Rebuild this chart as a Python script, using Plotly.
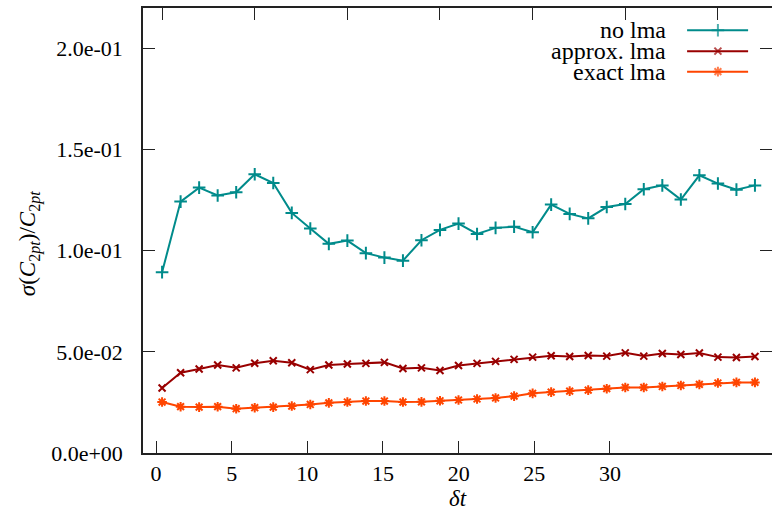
import plotly.graph_objects as go

# ---- data ----
dt = list(range(33))
no_lma = [0.0894, 0.1243, 0.1312, 0.1273, 0.1289, 0.1378, 0.1335, 0.1187, 0.1110, 0.1034,
          0.1050, 0.0988, 0.0966, 0.0951, 0.1052, 0.1103, 0.1134, 0.1083, 0.1113, 0.1119,
          0.1091, 0.1228, 0.1182, 0.1160, 0.1216, 0.1231, 0.1304, 0.1323, 0.1253, 0.1373,
          0.1332, 0.1302, 0.1323]
approx_lma = [0.0321, 0.0397, 0.0415, 0.0435, 0.0421, 0.0444, 0.0456, 0.0446, 0.0412, 0.0435,
              0.0440, 0.0443, 0.0448, 0.0418, 0.0421, 0.0408, 0.0433, 0.0443, 0.0453, 0.0463,
              0.0474, 0.0481, 0.0477, 0.0482, 0.0479, 0.0495, 0.0479, 0.0492, 0.0487, 0.0494,
              0.0474, 0.0472, 0.0477]
exact_lma = [0.0252, 0.0229, 0.0227, 0.0229, 0.0219, 0.0224, 0.0227, 0.0232, 0.0240, 0.0248,
             0.0252, 0.0257, 0.0257, 0.0252, 0.0253, 0.0258, 0.0262, 0.0267, 0.0272, 0.0281,
             0.0295, 0.0301, 0.0306, 0.0311, 0.0318, 0.0324, 0.0324, 0.0329, 0.0334, 0.0339,
             0.0346, 0.0349, 0.0349]

series_names = ["no lma", "approx. lma", "exact lma"]
series_colors = ["#008b8b", "#990000", "#ff4500"]
series_symbols = ["cross-thin-open", "x-thin-open", "asterisk-open"]
series_sizes = [9, 7, 8]

x_ticks = [0, 5, 10, 15, 20, 25, 30]
y_ticks = [0.0, 0.05, 0.10, 0.15, 0.20]
y_ticktext = ["0.0e+00", "5.0e-02", "1.0e-01", "1.5e-01", "2.0e-01"]

FONT = "Liberation Serif"

fig = go.Figure()

# empty helper traces so that the main subplot and right y axis exist
fig.add_trace(go.Scatter(x=[], y=[], xaxis="x", yaxis="y", showlegend=False))
fig.add_trace(go.Scatter(x=[], y=[], xaxis="x", yaxis="y2", showlegend=False))

for name, ys, col, sym, sz in zip(series_names, [no_lma, approx_lma, exact_lma],
                                  series_colors, series_symbols, series_sizes):
    fig.add_trace(go.Scatter(
        x=dt, y=ys, name=name, mode="lines+markers", xaxis="x2", yaxis="y",
        line=dict(color=col, width=2),
        marker=dict(symbol=sym, size=sz, color=col, line=dict(color=col, width=2)),
        showlegend=False))

# manual gnuplot-style legend (text, then sample) on a hidden unit axis
leg_y = [0.950, 0.903, 0.857]
for name, col, sym, sz, ly in zip(series_names, series_colors, series_symbols,
                                  series_sizes, leg_y):
    fig.add_trace(go.Scatter(
        x=[0.865, 0.914, 0.962], y=[ly, ly, ly], xaxis="x3", yaxis="y3",
        mode="lines+markers", showlegend=False, hoverinfo="skip",
        line=dict(color=col, width=2),
        marker=dict(symbol=sym, size=[0, sz, 0], color=col, line=dict(color=col, width=2))))
    fig.add_annotation(x=0.834, y=ly, xref="x3", yref="y3", text=name, showarrow=False,
                       xanchor="right", yanchor="middle",
                       font=dict(family=FONT, size=24, color="black"))

# y axis title
fig.add_annotation(x=-0.18, y=0.471, xref="paper", yref="paper", showarrow=False,
                   textangle=-90, xanchor="center", yanchor="middle",
                   text="<i>σ</i>(<i>C</i><sub>2<i>pt</i></sub>)/<i>C</i><sub>2<i>pt</i></sub>",
                   font=dict(family=FONT, size=23, color="black"))

axis_common = dict(showgrid=False, zeroline=False, ticks="inside", ticklen=12,
                   tickcolor="#222", tickwidth=1)

fig.update_layout(
    width=772, height=513,
    margin=dict(l=143, r=0, t=8, b=60),
    paper_bgcolor="white", plot_bgcolor="white",
    font=dict(family=FONT, size=22, color="black"),
    xaxis=dict(range=[-0.86, 40.71], tickvals=x_ticks, showline=True, linecolor="#222",
               linewidth=1.5, anchor="y", side="bottom",
               tickfont=dict(family=FONT, size=22),
               title=dict(text="<i>δt</i>", standoff=2, font=dict(family=FONT, size=23)),
               **axis_common),
    xaxis2=dict(range=[-1.03, 32.92], tickvals=x_ticks, showticklabels=False, showline=True,
                linecolor="#222", linewidth=1.5, overlaying="x", side="top", anchor="y",
                **axis_common),
    yaxis=dict(range=[0, 0.22], tickvals=y_ticks, ticktext=y_ticktext, showline=True,
               linecolor="#222", linewidth=1.5, anchor="x", ticklabelstandoff=14,
               tickfont=dict(family=FONT, size=22),
               **axis_common),
    yaxis2=dict(range=[0, 0.22], tickvals=y_ticks, showticklabels=False, showline=False,
                overlaying="y", side="right", anchor="x", **axis_common),
    xaxis3=dict(range=[0, 1], visible=False, overlaying="x", fixedrange=True),
    yaxis3=dict(range=[0, 1], visible=False, overlaying="y", fixedrange=True),
)

fig.write_html("out.html")
